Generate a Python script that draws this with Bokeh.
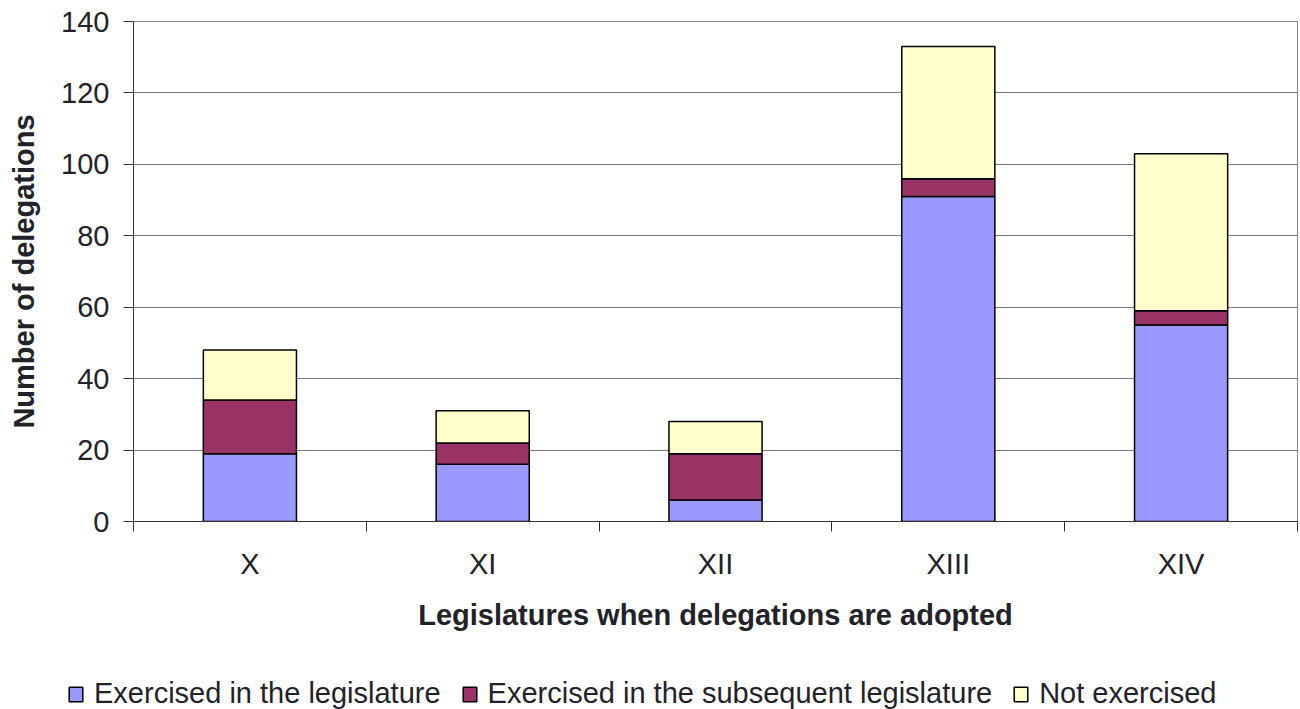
from bokeh.plotting import figure
from bokeh.layouts import column
from bokeh.models import FixedTicker, Legend, LegendItem, Range1d, ColumnDataSource
from bokeh.embed import file_html
from bokeh.resources import INLINE

# ---- data ----
legislatures = ["X", "XI", "XII", "XIII", "XIV"]
exercised_in_legislature = [19, 16, 6, 91, 55]
exercised_subsequent = [15, 6, 13, 5, 4]
not_exercised = [14, 9, 9, 37, 44]
series_names = ["Exercised in the legislature",
                "Exercised in the subsequent legislature",
                "Not exercised"]
series_colors = ["#9999FF", "#993366", "#FFFFCC"]
y_ticks = [0, 20, 40, 60, 80, 100, 120, 140]

FONT = "Liberation Sans"
TXT = "#222228"

centers = [i + 0.5 for i in range(len(legislatures))]
boundaries = list(range(len(legislatures) + 1))

source = ColumnDataSource(dict(x=centers,
                               a=exercised_in_legislature,
                               b=exercised_subsequent,
                               c=not_exercised))

p = figure(width=1300, height=669,
           x_range=Range1d(0, len(legislatures)),
           y_range=Range1d(0, 140),
           output_backend="svg", toolbar_location=None,
           min_border_left=133, min_border_right=3,
           min_border_top=21, min_border_bottom=148)

p.background_fill_color = "white"
p.border_fill_color = "white"
p.outline_line_color = "#888888"
p.outline_line_width = 1

renderers = p.vbar_stack(["a", "b", "c"], x="x", width=0.4, source=source,
                         fill_color=series_colors, line_color="black",
                         line_width=1.5)

# grid
p.xgrid.grid_line_color = None
p.ygrid.ticker = FixedTicker(ticks=y_ticks)
p.ygrid.grid_line_color = "#7a7a7a"
p.ygrid.grid_line_width = 1

# y axis
ya = p.yaxis[0]
ya.ticker = FixedTicker(ticks=y_ticks)
ya.axis_line_color = "#333333"
ya.major_tick_line_color = "#333333"
ya.major_tick_out = 10
ya.major_tick_in = 0
ya.minor_tick_line_color = None
ya.major_label_standoff = 14
ya.major_label_text_font = FONT
ya.major_label_text_font_size = "29px"
ya.major_label_text_color = TXT
ya.axis_label = "Number of delegations"
ya.axis_label_text_font = FONT
ya.axis_label_text_font_style = "bold"
ya.axis_label_text_font_size = "29px"
ya.axis_label_text_color = TXT
ya.axis_label_standoff = 18

# x axis: labels at centres, tick marks at category boundaries
xa = p.xaxis[0]
xa.ticker = FixedTicker(ticks=centers, minor_ticks=boundaries)
xa.major_label_overrides = {c: lab for c, lab in zip(centers, legislatures)}
xa.axis_line_color = "#333333"
xa.major_tick_line_color = None
xa.major_tick_out = 0
xa.major_tick_in = 0
xa.minor_tick_line_color = "#333333"
xa.minor_tick_out = 10
xa.minor_tick_in = 0
xa.major_label_standoff = 16
xa.major_label_text_font = FONT
xa.major_label_text_font_size = "29px"
xa.major_label_text_color = TXT
xa.axis_label = "Legislatures when delegations are adopted"
xa.axis_label_text_font = FONT
xa.axis_label_text_font_style = "bold"
xa.axis_label_text_font_size = "29px"
xa.axis_label_text_color = TXT
xa.axis_label_standoff = 16

# ---- legend strip (separate figure so it isn't clipped by the main frame) ----
lf = figure(width=1300, height=40, x_range=Range1d(0, 1), y_range=Range1d(0, 1),
            x_axis_type=None, y_axis_type=None,
            output_backend="svg", toolbar_location=None,
            min_border=0, outline_line_color=None)
lf.frame_align = False
lf.grid.visible = False
leg_renderers = lf.vbar_stack(["a", "b", "c"], x="x", width=0.4, source=source,
                              fill_color=series_colors, line_color="black",
                              line_width=1.5)
for r in leg_renderers:
    r.visible = False

legend = Legend(items=[LegendItem(label=n, renderers=[r]) for n, r in zip(series_names, leg_renderers)],
                orientation="horizontal", location=(67, -1),
                glyph_width=17, glyph_height=18, label_standoff=10, spacing=20,
                padding=0, margin=0, border_line_color=None,
                background_fill_alpha=0, inactive_fill_alpha=0,
                label_text_font=FONT, label_text_font_size="29px",
                label_text_color=TXT)
lf.add_layout(legend, "center")

layout = column(p, lf, spacing=0)
open("out.html", "w").write(file_html(layout, INLINE))
